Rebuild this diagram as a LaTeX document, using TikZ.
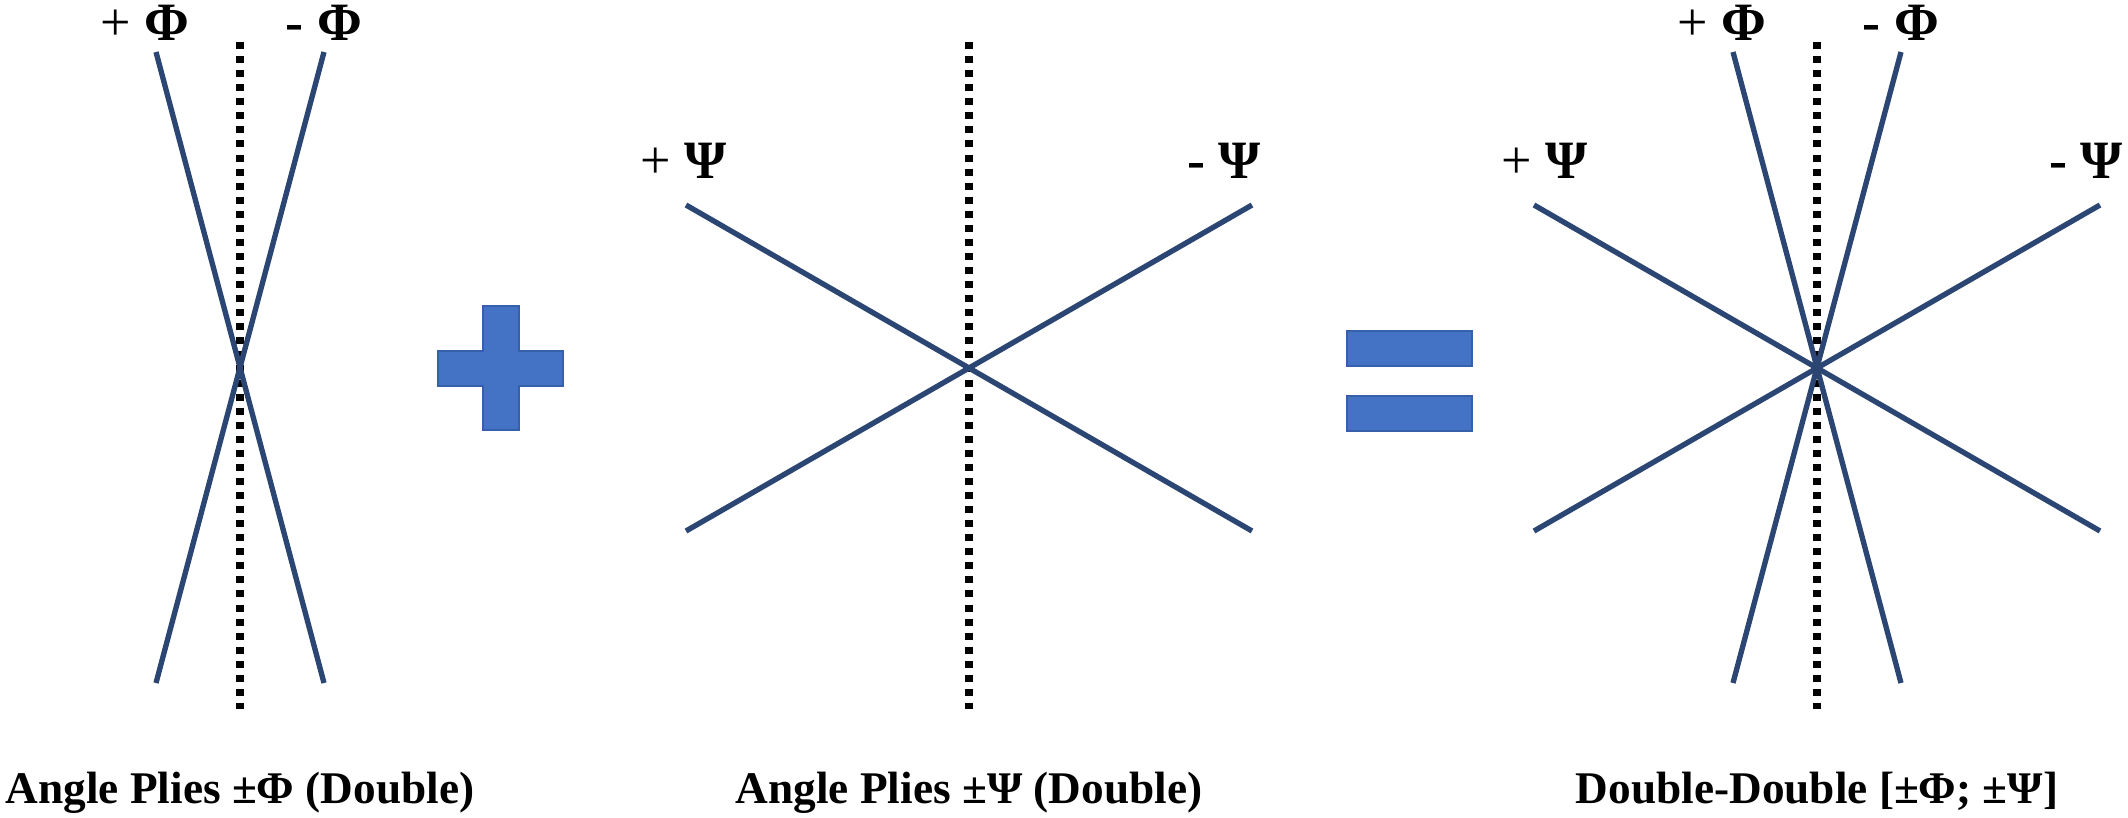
\documentclass[tikz,border=0pt]{standalone}
\usepackage{fontspec}
\setmainfont{Liberation Serif}
\definecolor{plyblue}{HTML}{2B4673}
\definecolor{symfill}{HTML}{4472C4}
\definecolor{symedge}{HTML}{3760AA}
\begin{document}
\begin{tikzpicture}[x=0.0125cm,y=-0.0125cm,
  ply/.style={draw=plyblue,line width=1.9pt},
  axisline/.style={draw=black,line width=2.5pt,dash pattern=on 2.5pt off 2.5pt},
  lbl/.style={font=\fontsize{19.2}{22}\selectfont,anchor=base,inner sep=0pt},
  caption/.style={font=\fontsize{16.1}{20}\selectfont\bfseries,anchor=base,inner sep=0pt},
  sym/.style={fill=symfill,draw=symedge,line width=0.6pt}]
\useasboundingbox (0,0) rectangle (2128,817);

% ---------- left plot: +/- Phi ----------
\coordinate (Ltop) at (240,42);
\coordinate (Lbot) at (240,709);
\draw[axisline] (Ltop) -- (Lbot);
\coordinate (LpA) at (156,52);
\coordinate (LpB) at (324,683);
\coordinate (LmA) at (324,52);
\coordinate (LmB) at (156,683);
\draw[ply] (LpA) -- (LpB);
\draw[ply] (LmA) -- (LmB);
\node[lbl] (LlabP) at (145,40) {+ \textbf{Φ}};
\node[lbl] (LlabM) at (324,40) {\textbf{- Φ}};
\node[caption] (Lcap) at (240,803) {Angle Plies ±Φ (Double)};

% ---------- plus sign ----------
\draw[sym] (483,306) -- (519,306) -- (519,351) -- (563,351) -- (563,386)
  -- (519,386) -- (519,430) -- (483,430) -- (483,386) -- (438,386)
  -- (438,351) -- (483,351) -- cycle;

% ---------- middle plot: +/- Psi ----------
\coordinate (Mtop) at (969,42);
\coordinate (Mbot) at (969,709);
\draw[axisline] (Mtop) -- (Mbot);
\coordinate (MpA) at (686,205);
\coordinate (MpB) at (1252,531);
\coordinate (MmA) at (1252,205);
\coordinate (MmB) at (686,531);
\draw[ply] (MpA) -- (MpB);
\draw[ply] (MmA) -- (MmB);
\node[lbl] (MlabP) at (684,178) {+ \textbf{Ψ}};
\node[lbl] (MlabM) at (1224,178) {\textbf{- Ψ}};
\node[caption] (Mcap) at (969,803) {Angle Plies ±Ψ (Double)};

% ---------- equals sign ----------
\draw[sym] (1347,331) rectangle (1472,366);
\draw[sym] (1347,396) rectangle (1472,431);

% ---------- right plot: double-double ----------
\coordinate (Rtop) at (1817,42);
\coordinate (Rbot) at (1817,709);
\draw[axisline] (Rtop) -- (Rbot);
\coordinate (RsA) at (1534,205);
\coordinate (RsB) at (2100,531);
\coordinate (RtA) at (2100,205);
\coordinate (RtB) at (1534,531);
\draw[ply] (RsA) -- (RsB);
\draw[ply] (RtA) -- (RtB);
\coordinate (RpA) at (1733,52);
\coordinate (RpB) at (1901,683);
\coordinate (RmA) at (1901,52);
\coordinate (RmB) at (1733,683);
\draw[ply] (RpA) -- (RpB);
\draw[ply] (RmA) -- (RmB);
\node[lbl] (RlabPp) at (1722,40) {+ \textbf{Φ}};
\node[lbl] (RlabPm) at (1901,40) {\textbf{- Φ}};
\node[lbl] (RlabSp) at (1545,178) {+ \textbf{Ψ}};
\node[lbl] (RlabSm) at (2086,178) {\textbf{- Ψ}};
\node[caption] (Rcap) at (1817,803) {Double-Double [±Φ; ±Ψ]};
\end{tikzpicture}
\end{document}
